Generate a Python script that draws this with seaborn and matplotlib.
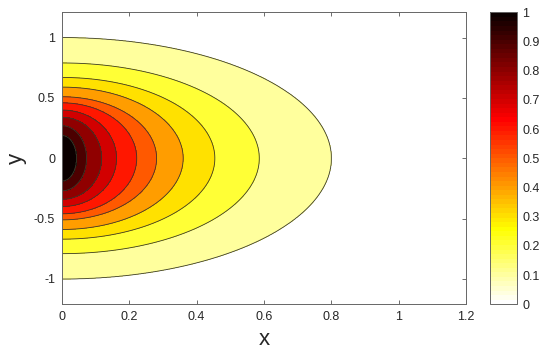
import numpy as np
import seaborn as sns
import matplotlib
matplotlib.use("Agg")
import matplotlib.pyplot as plt
from matplotlib.colors import Normalize

# contour levels and where each level's curve crosses the axes
levels = [0.0, 0.1, 0.2, 0.3, 0.4, 0.5, 0.6, 0.7, 0.8, 0.9]
x_cross = [0.80, 0.586, 0.454, 0.360, 0.281, 0.222, 0.162, 0.118, 0.073, 0.044]   # at y = 0
y_cross = [1.00, 0.79, 0.67, 0.59, 0.51, 0.46, 0.40, 0.34, 0.27, 0.19]            # at x = 0
x_ticks = [0, 0.2, 0.4, 0.6, 0.8, 1, 1.2]
x_ticklabels = ["0", "0.2", "0.4", "0.6", "0.8", "1", "1.2"]
y_ticks = [-1, -0.5, 0, 0.5, 1]
y_ticklabels = ["-1", "-0.5", "0", "0.5", "1"]
cb_ticks = [0, 0.1, 0.2, 0.3, 0.4, 0.5, 0.6, 0.7, 0.8, 0.9, 1]
cb_ticklabels = ["0", "0.1", "0.2", "0.3", "0.4", "0.5", "0.6", "0.7", "0.8", "0.9", "1"]

sns.set_style("ticks")
plt.rcParams["font.family"] = ["Liberation Sans", "DejaVu Sans"]

# build a field whose level curves are the ellipses through the read crossings
lev = np.array(levels + [1.0])
a = np.array(x_cross + [1e-6])[:, None, None]
b = np.array(y_cross + [1e-6])[:, None, None]
xs = np.linspace(0, 1.2, 721)
ys = np.linspace(-1.21, 1.21, 800)
X, Y = np.meshgrid(xs, ys)
R = np.sqrt((X / a) ** 2 + (Y / b) ** 2)
k = (R <= 1).sum(axis=0) - 1
outside = k < 0
kc = np.clip(k, 0, len(lev) - 2)
lo = np.take_along_axis(R, kc[None], 0)[0]
hi = np.take_along_axis(R, kc[None] + 1, 0)[0]
Z = lev[kc] + (1 - lo) / (hi - lo) * (lev[kc + 1] - lev[kc])
Z[outside] = -0.1 * (R[0][outside] - 1)

fig = plt.figure(figsize=(5.5, 3.52), dpi=100)
ax = fig.add_axes([62 / 550, 1 - 304.3 / 352, 404 / 550, 292 / 352])

band_colors = plt.cm.hot_r(lev[1:])
ax.contourf(X, Y, Z, levels=lev, colors=band_colors)
ax.contour(X, Y, Z, levels=levels, colors="#3a3a2a", linewidths=0.6)

ax.set_xlim(0, 1.2)
ax.set_ylim(-1.21, 1.21)
ax.set_xticks(x_ticks)
ax.set_xticklabels(x_ticklabels)
ax.set_yticks(y_ticks)
ax.set_yticklabels(y_ticklabels)
ax.tick_params(direction="in", length=3, width=0.6, color="#555555",
               top=True, right=True, labelsize=9, pad=5)
for s in ax.spines.values():
    s.set_color("#666666")
    s.set_linewidth(0.7)
ax.set_xlabel("x", fontsize=16, labelpad=4)
ax.set_ylabel("y", fontsize=16, labelpad=5)

cax = fig.add_axes([490 / 550, 1 - 304.3 / 352, 27 / 550, 292 / 352])
sm = matplotlib.cm.ScalarMappable(norm=Normalize(0, 1), cmap=plt.get_cmap("hot_r", 64))
cb = fig.colorbar(sm, cax=cax, ticks=cb_ticks)
cb.set_ticklabels(cb_ticklabels)
cb.ax.tick_params(direction="in", length=3, width=0.6, color="#555555", labelsize=9, pad=4)
cb.outline.set_edgecolor("#666666")
cb.outline.set_linewidth(0.7)

fig.savefig("out.png", dpi=100)
